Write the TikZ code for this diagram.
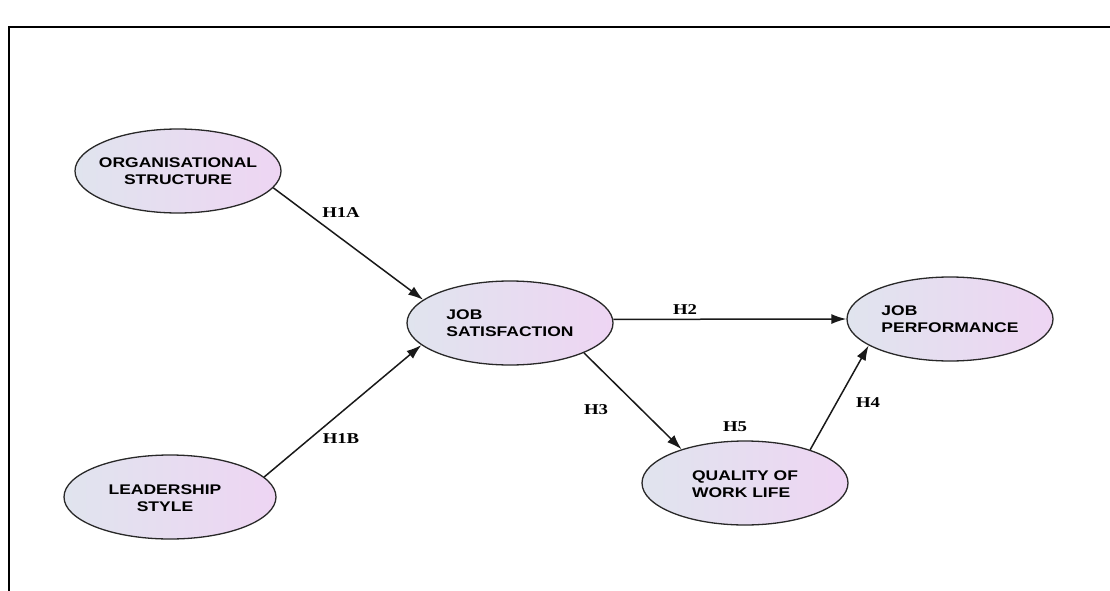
\documentclass[tikz,border=0pt]{standalone}
\usepackage{fontspec}
\usetikzlibrary{shapes.geometric,arrows.meta}
\newfontfamily\ellfont[FakeStretch=1.25]{Liberation Sans}
\newfontfamily\hypfont[FakeStretch=1.25]{Liberation Serif}
\definecolor{elleft}{RGB}{224,228,238}
\definecolor{elright}{RGB}{238,213,243}
\definecolor{elborder}{RGB}{40,40,40}
\tikzset{
  latent/.style={ellipse, draw=elborder, line width=1.3pt, minimum width=206pt,
    minimum height=84pt, inner sep=0pt, left color=elleft, right color=elright},
  lattext/.style={font=\ellfont\bfseries\fontsize{14}{17}\selectfont, inner sep=0pt, text=black},
  hyp/.style={font=\hypfont\bfseries\fontsize{15}{17}\selectfont, inner sep=0pt, text=black},
  arr/.style={draw=black!90, line width=1.5pt, -{Latex[length=15pt,width=10pt]}},
  frame/.style={line width=2.5pt, draw=black}
}
\begin{document}
\begin{tikzpicture}[x=1pt,y=-1pt]
\useasboundingbox (0,0) rectangle (1110,591);
\draw[frame] (9,592) -- (9,27) -- (1111,27);
% ellipses
\node[latent] (org) at (178,171) {};
\node[latent] (js) at (510,323) {};
\node[latent] (jp) at (950,319) {};
\node[latent] (qwl) at (745,483) {};
\node[latent, minimum width=212pt] (ls) at (170,497) {};
% texts
\node[lattext, align=center] (orgt) at (org) {ORGANISATIONAL\\STRUCTURE};
\node[lattext, align=left] (jst) at (js) {JOB\\SATISFACTION};
\node[lattext, align=left] (jpt) at (jp) {JOB\\PERFORMANCE};
\node[lattext, align=left] (qwlt) at (745,484) {QUALITY OF\\WORK LIFE};
\node[lattext, align=center] (lst) at (165,498) {LEADERSHIP\\STYLE};
% arrows
\draw[arr] (org.-10) -- (js.165);
\draw[arr] (ls.12) -- (js.194);
\draw[arr] (js.2) -- (jp.180);
\draw[arr] (js.-22) -- (qwl.152);
\draw[arr] (qwl.27) -- (jp.198);
% labels
\node[hyp] (h1a) at (341,213) {H1A};
\node[hyp] (h1b) at (341,439) {H1B};
\node[hyp] (h2) at (685,310) {H2};
\node[hyp] (h3) at (596,410) {H3};
\node[hyp] (h4) at (868,403) {H4};
\node[hyp] (h5) at (735,427) {H5};
\end{tikzpicture}
\end{document}
